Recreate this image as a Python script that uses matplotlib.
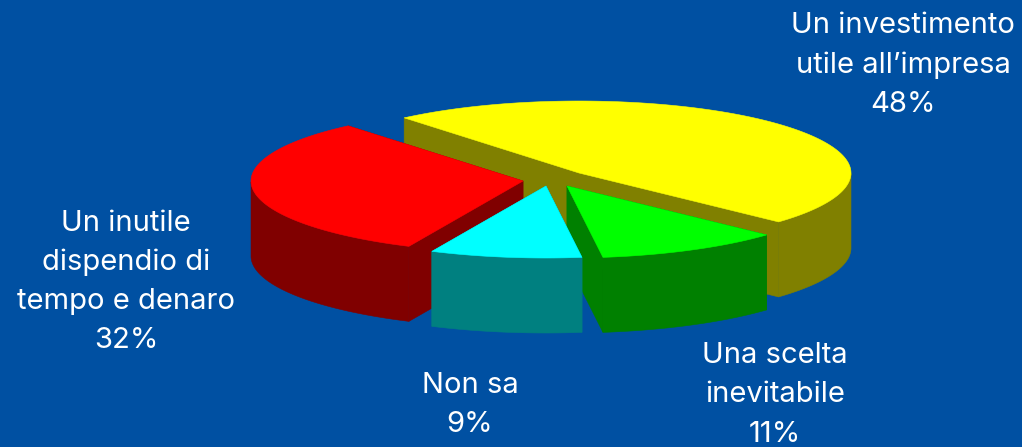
import numpy as np
import matplotlib
matplotlib.use("Agg")
import matplotlib.pyplot as plt
from matplotlib.patches import Polygon

# Data
values = [48, 11, 9, 32]
names = ["Un investimento\nutile all\u2019impresa", "Una scelta\ninevitabile", "Non sa", "Un inutile\ndispendio di\ntempo e denaro"]

# Style / layout
top_colors = ["#ffff00", "#00ff00", "#00ffff", "#ff0000"]
side_colors = ["#808000", "#008000", "#008080", "#800000"]
tips = [(579, 173), (567, 186), (546, 186), (523, 181)]
label_pos = [(903, 65), (775, 395), (470, 405), (126, 282)]
draw_order = [0, 3, 1, 2]
start_angle = 130.0
rx, ry, depth = 272.0, 72.0, 75.0
BG = "#0050a2"

fig = plt.figure(figsize=(10.22, 4.47), dpi=100, facecolor=BG)
ax = fig.add_axes([0, 0, 1, 1])
ax.set_xlim(0, 1022)
ax.set_ylim(447, 0)
ax.axis("off")

fracs = np.array(values, float) / sum(values) * 360.0
ends = start_angle - np.cumsum(fracs)
starts = ends + fracs

z = 1
for i in draw_order:
    tc, sc = top_colors[i], side_colors[i]
    cx, cy = tips[i]
    th = np.radians(np.linspace(starts[i], ends[i], 160))
    x = cx + rx * np.cos(th)
    y = cy - ry * np.sin(th)

    # cut walls, back one first
    walls = [(x[0], y[0]), (x[-1], y[-1])]
    walls.sort(key=lambda p: p[1])
    for px, py in walls:
        ax.add_patch(Polygon([(px, py), (cx, cy), (cx, cy + depth), (px, py + depth)],
                             closed=True, fc=sc, ec=sc, lw=0.4, zorder=z))
        z += 1

    # outer wall (front half only)
    front = np.sin(th) <= 0
    if front.any():
        fx, fy = x[front], y[front]
        band = np.column_stack([np.r_[fx, fx[::-1]], np.r_[fy, fy[::-1] + depth]])
        ax.add_patch(Polygon(band, closed=True, fc=sc, ec=sc, lw=0.4, zorder=z))
        z += 1

    # top face
    ax.add_patch(Polygon(np.column_stack([np.r_[cx, x], np.r_[cy, y]]), closed=True, fc=tc, ec=tc, lw=0.4, zorder=z))
    z += 1

for name, val, (lx, ly) in zip(names, values, label_pos):
    ax.text(lx, ly, f"{name}\n{val}%", color="white", ha="center", va="center",
            fontsize=21, family="Inter", linespacing=1.574, zorder=100)

fig.savefig("out.png", dpi=100, facecolor=BG)
